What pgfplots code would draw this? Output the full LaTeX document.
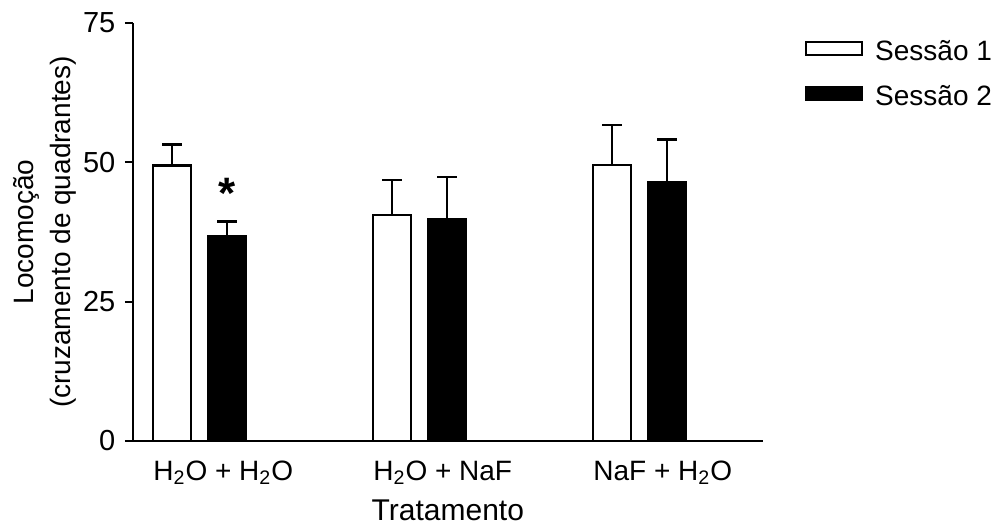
\documentclass[border=0pt]{standalone}
\usepackage{fontspec}
\setmainfont{Liberation Sans}
\usepackage{pgfplots}
\pgfplotsset{compat=1.18}

\begin{document}
\fontsize{14}{17}\selectfont
\begin{tikzpicture}
\begin{axis}[
  at={(0,0)}, anchor=south west,
  scale only axis, width=314.85pt, height=209pt,
  xmin=-0.3023, xmax=2.56, ymin=0, ymax=75,
  axis lines=left, axis line style={-, line width=1.1pt},
  ytick={0,25,50,75},
  tick align=outside, major tick length=4pt,
  ytick style={line width=1.1pt, black},
  y tick label style={font=\fontsize{14.5}{17}\selectfont},
  xtick={-0.2114,0.7886,1.7886},
  xticklabels={H\textsubscript{2}O + H\textsubscript{2}O, H\textsubscript{2}O + NaF, NaF + H\textsubscript{2}O},
  x tick label style={anchor=north west, inner xsep=0pt, yshift=-1pt},
  xtick style={draw=none},
  /pgf/number format/assume math mode=true,
  xlabel={Tratamento},
  xlabel style={font=\fontsize{15}{17}\selectfont, yshift=2pt},
  ylabel={Locomoção\\(cruzamento de quadrantes)},
  ylabel style={align=center, font=\fontsize{14}{18.5}\selectfont, yshift=-6pt},
  legend style={at={(1.0672,0.886)}, anchor=west, draw=none, fill=none,
    inner sep=0pt, outer sep=0pt, row sep=10pt,
    nodes={inner sep=0pt, text height=12.5pt, text depth=0pt}},
  legend cell align=left,
]
\addplot[ybar, bar width=0.1727, bar shift=0pt, draw=black, fill=white, line width=1.2pt,
  legend image code/.code={\draw[line width=1pt, fill=white] (0.5pt,-3.25pt) rectangle (28.5pt,3.25pt); \path (34.5pt,0pt);},
  error bars/.cd, y dir=plus, y explicit, error mark=|,
  error bar style={line width=1.1pt, black},
  error mark options={line width=1.1pt, black, mark size=5pt}]
coordinates {
  (-0.125,49.4) +- (0,3.8)
  (0.875,40.5) +- (0,6.4)
  (1.875,49.5) +- (0,7.2)
};
\addlegendentry{Sessão 1}
\addplot[ybar, bar width=0.1727, bar shift=0pt, draw=black, fill=black, line width=1.2pt,
  legend image code/.code={\draw[line width=1pt, fill=black] (0.5pt,-3.25pt) rectangle (28.5pt,3.25pt); \path (34.5pt,0pt);},
  error bars/.cd, y dir=plus, y explicit, error mark=|,
  error bar style={line width=1.1pt, black},
  error mark options={line width=1.1pt, black, mark size=5pt}]
coordinates {
  (0.125,36.8) +- (0,2.6)
  (1.125,39.8) +- (0,7.5)
  (2.125,46.5) +- (0,7.6)
};
\addlegendentry{Sessão 2}
\node[anchor=base, inner sep=0pt, font=\fontsize{22}{22}\selectfont\bfseries] at (axis cs:0.126,41.8) {*};
\end{axis}
\pgfresetboundingbox
\useasboundingbox (-66.5pt,-42pt) rectangle (433.5pt,220.5pt);
\end{tikzpicture}
\end{document}
